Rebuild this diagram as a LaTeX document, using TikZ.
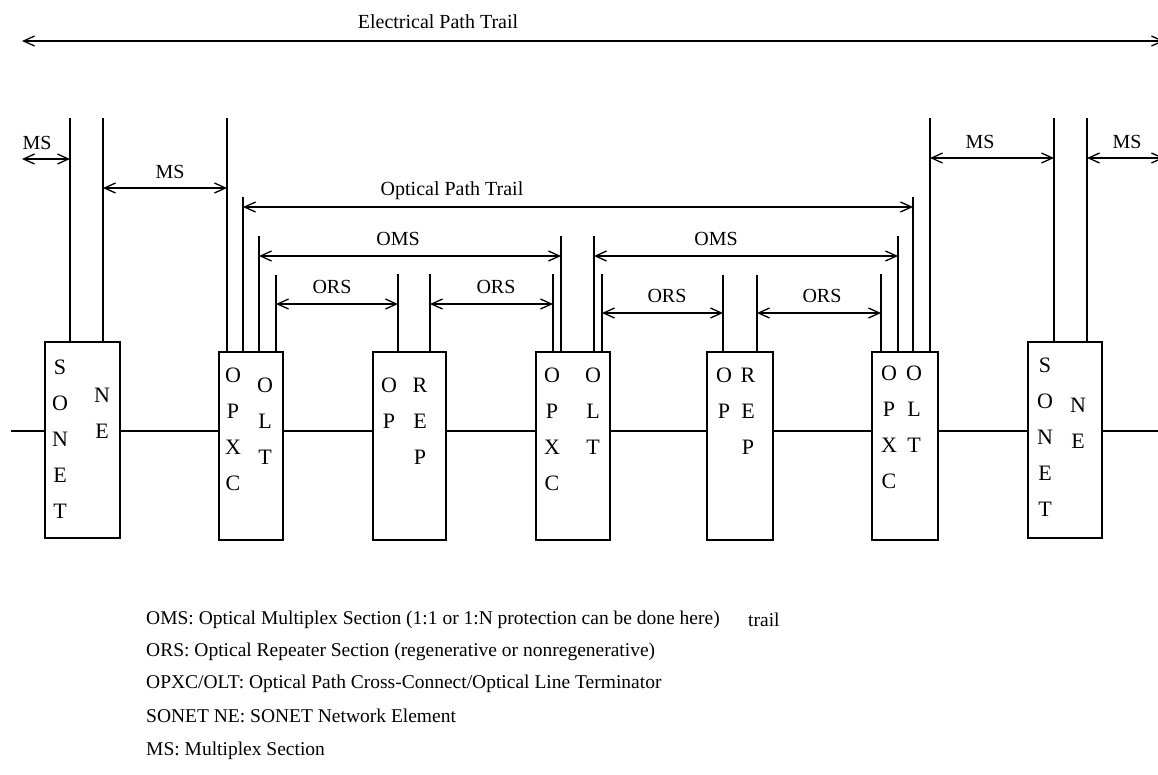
\documentclass[tikz,border=0pt]{standalone}
\usepackage{fontspec}
\setmainfont{Liberation Serif}
\usetikzlibrary{arrows.meta,positioning,calc}

\tikzset{
	unit/.style={draw, line width=1.2pt, inner sep=0pt, minimum height=188pt},
	stem/.style={line width=1.2pt},
	span/.style={line width=1.3pt, {Straight Barb[length=11pt,width=10pt]}-{Straight Barb[length=11pt,width=10pt]}},
	lbl/.style={font=\fontsize{20}{22}\selectfont, inner sep=0pt},
	letters/.style={font=\fontsize{22}{36}\selectfont, align=center, anchor=north, inner sep=0pt},
	legend/.style={font=\fontsize{19.5}{22}\selectfont, anchor=west, inner sep=0pt}
}

\begin{document}
\begin{tikzpicture}[x=1pt,y=-1pt]
	\useasboundingbox (0,0) rectangle (1158,774);
	% network elements
	\node[unit, minimum width=75pt, minimum height=196pt] (sonetL) at (82.5,440) {};
	\node[unit, minimum width=64pt] (opxcA) at (251,446) {};
	\node[unit, minimum width=73pt] (repA) at (409.5,446) {};
	\node[unit, minimum width=74pt] (opxcB) at (573,446) {};
	\node[unit, minimum width=66pt] (repB) at (740,446) {};
	\node[unit, minimum width=66pt] (opxcC) at (905,446) {};
	\node[unit, minimum width=74pt, minimum height=196pt] (sonetR) at (1065,440) {};
	% box letters
	\node[letters] (tS1) at (60,360) {S\\O\\N\\E\\T};
	\node[letters] (tN1) at (102,388) {N\\E};
	\node[letters] (tX1) at (233,368) {O\\P\\X\\C};
	\node[letters] (tL1) at (265,378) {O\\L\\T};
	\node[letters] (tO1) at (389,378) {O\\P};
	\node[letters] (tR1) at (420,378) {R\\E\\P};
	\node[letters] (tX2) at (552,368) {O\\P\\X\\C};
	\node[letters] (tL2) at (593,368) {O\\L\\T};
	\node[letters] (tO2) at (724,368) {O\\P};
	\node[letters] (tR2) at (748,368) {R\\E\\P};
	\node[letters] (tX3) at (889,366) {O\\P\\X\\C};
	\node[letters] (tL3) at (914,366) {O\\L\\T};
	\node[letters] (tS2) at (1045,358) {S\\O\\N\\E\\T};
	\node[letters] (tN2) at (1078,398) {N\\E};
	% fibre
	\coordinate (fibreW) at (11,431);
	\coordinate (fibreE) at (1165,431);
	\draw[line width=1.6pt] (fibreW) -- (sonetL.west |- fibreW);
	\draw[line width=1.6pt] (sonetL.east |- fibreW) -- (opxcA.west |- fibreW);
	\draw[line width=1.6pt] (opxcA.east |- fibreW) -- (repA.west |- fibreW);
	\draw[line width=1.6pt] (repA.east |- fibreW) -- (opxcB.west |- fibreW);
	\draw[line width=1.6pt] (opxcB.east |- fibreW) -- (repB.west |- fibreW);
	\draw[line width=1.6pt] (repB.east |- fibreW) -- (opxcC.west |- fibreW);
	\draw[line width=1.6pt] (opxcC.east |- fibreW) -- (sonetR.west |- fibreW);
	\draw[line width=1.6pt] (sonetR.east |- fibreW) -- (fibreE);
	% termination stems
	\foreach \n/\x/\y/\b in {s1/70/118/sonetL, s2/103/118/sonetL,
		a1/227/118/opxcA, a2/243/197/opxcA, a3/259/236/opxcA, a4/276/275/opxcA,
		r1/398/274/repA, r2/430/274/repA,
		b1/553/274/opxcB, b2/561/236/opxcB, b3/594/236/opxcB, b4/602/274/opxcB,
		q1/723/275/repB, q2/757/275/repB,
		c1/881/274/opxcC, c2/898/236/opxcC, c3/913/197/opxcC, c4/930/118/opxcC,
		t1/1054/118/sonetR, t2/1087/118/sonetR}
	{
		\coordinate (\n) at (\x,\y);
		\draw[stem] (\n) -- (\n |- \b.north);
	}
	% trails and sections
	\coordinate (elecW) at (22,41);
	\coordinate (elecE) at (1164,41);
	\draw[span] (elecW) -- (elecE);
	\node[lbl] (elec) at (438,22) {Electrical Path Trail};
	\coordinate (msW) at (22,159);
	\draw[span] (msW) -- (s1 |- msW);
	\node[lbl] at (37,143) {MS};
	\draw[span] (s2 |- 0,188) -- (a1 |- 0,188);
	\node[lbl] at (170,172) {MS};
	\draw[span] (a2 |- 0,207) -- (c3 |- 0,207);
	\node[lbl] at (452,191) {Optical Path Trail};
	\draw[span] (a3 |- 0,256) -- (b2 |- 0,256);
	\node[lbl] at (398,239) {OMS};
	\draw[span] (b3 |- 0,256) -- (c2 |- 0,256);
	\node[lbl] at (716,239) {OMS};
	\draw[span] (a4 |- 0,304) -- (r1 |- 0,304);
	\node[lbl] at (332,287) {ORS};
	\draw[span] (r2 |- 0,304) -- (b1 |- 0,304);
	\node[lbl] at (496,287) {ORS};
	\draw[span] (b4 |- 0,313) -- (q1 |- 0,313);
	\node[lbl] at (667,296) {ORS};
	\draw[span] (q2 |- 0,313) -- (c1 |- 0,313);
	\node[lbl] at (822,296) {ORS};
	\draw[span] (c4 |- 0,158) -- (t1 |- 0,158);
	\node[lbl] at (980,142) {MS};
	\coordinate (msE) at (1164,158);
	\draw[span] (t2 |- msE) -- (msE);
	\node[lbl] at (1127,142) {MS};
	% legend
	\node[legend] (lgOMS) at (146,620) {OMS: Optical Multiplex Section (1:1 or 1:N protection can be done here)};
	\node[legend] (lgTrail) at (748,620) {trail};
	\node[legend] (lgORS) at (146,652) {ORS: Optical Repeater Section (regenerative or nonregenerative)};
	\node[legend] (lgOPXC) at (146,684) {OPXC/OLT: Optical Path Cross-Connect/Optical Line Terminator};
	\node[legend] (lgNE) at (146,716) {SONET NE: SONET Network Element};
	\node[legend] (lgMS) at (146,751) {MS: Multiplex Section};
\end{tikzpicture}
\end{document}
